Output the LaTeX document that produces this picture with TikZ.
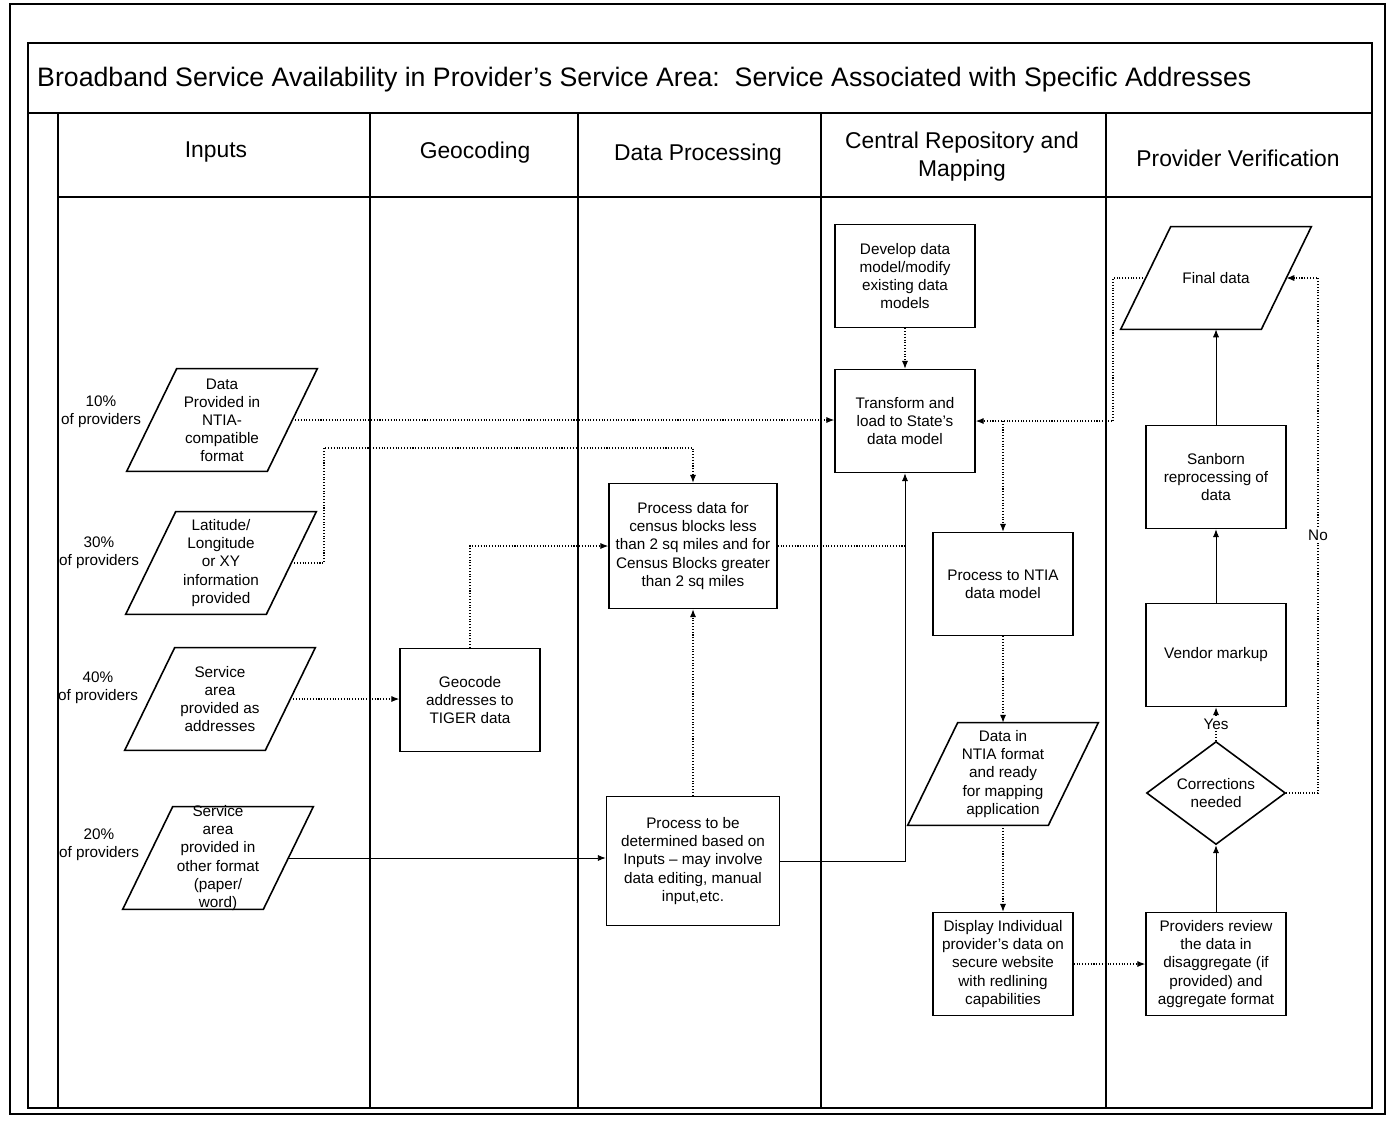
\documentclass[tikz,border=0pt]{standalone}
\usepackage{fontspec}
\setmainfont{Liberation Sans}
\usetikzlibrary{shapes.geometric,arrows.meta}
\newcommand{\boxfont}{\fontsize{8.7}{10.3}\selectfont}
\newcommand{\headfont}{\fontsize{13}{16}\selectfont}
% slanted outline round a named data node
\newcommand{\dataslant}[1]{\draw[line width=0.9pt] ([xshift=-0.5cm]#1.south west) -- ([xshift=-0.5cm]#1.south east) -- ([xshift=0.5cm]#1.north east) -- ([xshift=0.5cm]#1.north west) -- cycle;}
\begin{document}
\begin{tikzpicture}[x=0.02cm,y=-0.02cm,
  frame/.style={draw,line width=0.7pt},
  box/.style={draw,line width=0.9pt,rectangle,minimum width=2.8cm,minimum height=2.06cm,inner sep=0pt,font=\boxfont,align=center},
  databox/.style={rectangle,minimum width=2.8cm,minimum height=2.04cm,inner sep=0pt},
  txt/.style={font=\boxfont,align=center},
  dotline/.style={densely dotted,line width=0.6pt},
  solidline/.style={line width=0.5pt},
  arr/.style={-{Latex[length=4.5pt,width=3.5pt]}}]
\useasboundingbox (0,0) rectangle (1389,1127);

% swimlane frame
\draw[frame] (10,4) rectangle (1385,1114);
\draw[frame] (28,43) rectangle (1372,1108);
\draw[frame] (28,113) -- (1372,113);
\draw[frame] (58,197) -- (1372,197);
\draw[frame] (58,113) -- (58,1108);
\draw[frame] (370,113) -- (370,1108);
\draw[frame] (578,113) -- (578,1108);
\draw[frame] (821,113) -- (821,1108);
\draw[frame] (1106,113) -- (1106,1108);

\node[anchor=west,font=\fontsize{15.2}{18}\selectfont] (title) at (31,80) {Broadband Service Availability in Provider’s Service Area:\ \ Service Associated with Specific Addresses};
\node[font=\headfont] (h1) at (216,152) {Inputs};
\node[font=\headfont] (h2) at (475,153) {Geocoding};
\node[font=\headfont] (h3) at (698,155) {Data Processing};
\node[font=\headfont,align=center] (h4) at (962,157) {Central Repository and\\Mapping};
\node[font=\headfont] (h5) at (1238,158) {Provider Verification};

% inputs
\node[txt] (p1) at (101,412) {10\%\\of providers};
\node[txt] (p2) at (99,553) {30\%\\of providers};
\node[txt] (p3) at (98,688) {40\%\\of providers};
\node[txt] (p4) at (99,845) {20\%\\of providers};
\node[databox,label={[txt]center:{Data\\Provided in\\NTIA-\\compatible\\format}}] (in1) at (222,420) {};
\dataslant{in1}
\node[databox,label={[txt]center:{Latitude/\\Longitude\\or XY\\information\\provided}}] (in2) at (221,563) {};
\dataslant{in2}
\node[databox,label={[txt]center:{Service\\area\\provided as\\addresses}}] (in3) at (220,699) {};
\dataslant{in3}
\node[databox,label={[txt]center:{Service\\area\\provided in\\other format\\(paper/\\word)}}] (in4) at (218,858) {};
\dataslant{in4}

% geocoding and data processing
\node[box] (geo) at (470,700) {Geocode\\addresses to\\TIGER data};
\node[box,minimum width=3.36cm,minimum height=2.5cm] (pdata) at (693,546) {Process data for\\census blocks less\\than 2 sq miles and for\\Census Blocks greater\\than 2 sq miles};
\node[box,minimum width=3.46cm,minimum height=2.58cm] (ptbd) at (693,861) {Process to be\\determined based on\\Inputs – may involve\\data editing, manual\\input,etc.};

% central repository
\node[box] (dev) at (905,276) {Develop data\\model/modify\\existing data\\models};
\node[box] (trans) at (905,421) {Transform and\\load to State’s\\data model};
\node[box] (ntia) at (1003,584) {Process to NTIA\\data model};
\node[databox,label={[txt]center:{Data in\\NTIA format\\and ready\\for mapping\\application}}] (ntiafmt) at (1003,774) {};
\dataslant{ntiafmt}
\node[box] (disp) at (1003,964) {Display Individual\\provider’s data on\\secure website\\with redlining\\capabilities};

% provider verification
\node[databox,label={[txt]center:{Final data}}] (final) at (1216,278) {};
\dataslant{final}
\node[box] (sanb) at (1216,477) {Sanborn\\reprocessing of\\data};
\node[box] (vend) at (1216,655) {Vendor markup};
\node[draw,line width=0.9pt,diamond,aspect=1.35,minimum width=2.78cm,minimum height=2.06cm,inner sep=0pt,font=\boxfont,align=center] (diam) at (1216,793) {Corrections\\needed};
\node[box] (prov) at (1216,964) {Providers review\\the data in\\disaggregate (if\\provided) and\\aggregate format};

\coordinate (k1) at (324,448);
\coordinate (k2) at (1113,421);
\coordinate (k3) at (1003,421);
\coordinate (k4) at (1318,793);

\draw[dotline,arr] (in1.east) -- (in1.east -| trans.west);
\draw[dotline,arr] (in2.east) -| (k1) -| (pdata.north);
\draw[dotline,arr] (in3.east) -- (in3.east -| geo.west);
\draw[solidline,arr] (in4.east) -- (in4.east -| ptbd.west);
\draw[dotline,arr] (geo.north) |- (pdata.west);
\draw[dotline,arr] (ptbd.north) -- (pdata.south);
\draw[solidline,arr] (ptbd.east) -| (trans.south);
\draw[dotline] (pdata.east) -- (pdata.east -| trans.south);
\draw[dotline,arr] (dev.south) -- (trans.north);
\draw[dotline,arr] (final.west) -| (k2) -- (trans.east);
\draw[dotline,arr] (k3) -- (ntia.north);
\draw[dotline,arr] (ntia.south) -- (ntiafmt.north);
\draw[dotline,arr] (ntiafmt.south) -- (disp.north);
\draw[dotline,arr] (disp.east) -- (prov.west);
\draw[solidline,arr] (prov.north) -- (diam.south);
\draw[dotline,arr] (diam.north) -- node[fill=white,inner sep=1pt,font=\boxfont] (yes) {Yes} (vend.south);
\draw[solidline,arr] (vend.north) -- (sanb.south);
\draw[solidline,arr] (sanb.north) -- (final.south);
\draw[dotline,arr] (diam.east) -- (k4) |- node[pos=0.25,fill=white,inner sep=1pt,font=\boxfont] (no) {No} (final.east);
\end{tikzpicture}
\end{document}
